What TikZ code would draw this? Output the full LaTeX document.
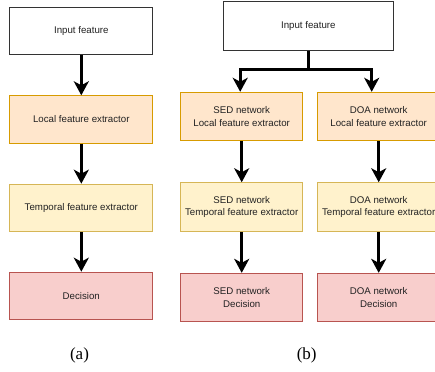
\documentclass[tikz,border=0pt]{standalone}
\usepackage{fontspec}
\setmainfont{Liberation Serif}
\newfontfamily\boxfont{Liberation Sans}
\usetikzlibrary{arrows.meta,calc}
\definecolor{orFill}{HTML}{FFE6CC}
\definecolor{orLine}{HTML}{D79B00}
\definecolor{yeFill}{HTML}{FFF2CC}
\definecolor{yeLine}{HTML}{D6B656}
\definecolor{reFill}{HTML}{F8CECC}
\definecolor{reLine}{HTML}{B85450}
\definecolor{txt}{HTML}{222222}
\tikzset{
  box/.style={rectangle, draw, line width=0.9pt, inner sep=0pt, align=center,
    font=\boxfont\fontsize{9.7}{12.3}\selectfont, text=txt},
  inbox/.style={box, draw=black!80, fill=white},
  locbox/.style={box, draw=orLine, fill=orFill},
  tmpbox/.style={box, draw=yeLine, fill=yeFill},
  decbox/.style={box, draw=reLine, fill=reFill},
  arr/.style={line width=3pt, -{Stealth[length=14pt, width=15pt, inset=4pt]}},
  caplabel/.style={font=\fontsize{17}{19}\selectfont}
}
\begin{document}
\begin{tikzpicture}[x=1pt,y=-1pt]
\useasboundingbox (0,0) rectangle (435,371);
% (a)
\node[inbox, minimum width=143pt, minimum height=47pt] (ia) at (81.3,30.7) {Input feature};
\node[locbox, minimum width=143pt, minimum height=47.5pt] (la) at (81.3,119.5) {Local feature extractor};
\node[tmpbox, minimum width=143pt, minimum height=47.7pt] (ta) at (81.3,208) {Temporal feature extractor};
\node[decbox, minimum width=143pt, minimum height=47.7pt] (da) at (81.3,296) {Decision};
\draw[arr] (ia.south) -- (la.north);
\draw[arr] (la.south) -- (ta.north);
\draw[arr] (ta.south) -- (da.north);
\node[caplabel] (capa) at (79.5,355) {(a)};
% (b)
\node[inbox, minimum width=170pt, minimum height=48.7pt] (ib) at (308.3,26.3) {Input feature};
\node[locbox, minimum width=122pt, minimum height=48.5pt] (sl) at (241.7,116.5) {SED network\\Local feature extractor};
\node[locbox, minimum width=122pt, minimum height=48.5pt] (dl) at (378.7,116.5) {DOA network\\Local feature extractor};
\node[tmpbox, minimum width=122pt, minimum height=49pt] (st) at (241.7,207.2) {SED network\\Temporal feature extractor};
\node[tmpbox, minimum width=122pt, minimum height=49pt] (dt) at (378.7,207.2) {DOA network\\Temporal feature extractor};
\node[decbox, minimum width=122pt, minimum height=48.4pt] (sd) at (241.7,297.5) {SED network\\Decision};
\node[decbox, minimum width=122pt, minimum height=48.4pt] (dd) at (378.7,297.5) {DOA network\\Decision};
\coordinate (j) at (ib.south |- 0,70);
\draw[arr] (ib.south) -- (j) -| ([xshift=-1.5pt]sl.north);
\draw[arr] (j) -| ([xshift=-7pt]dl.north);
\draw[arr] (sl.south) -- (st.north);
\draw[arr] (dl.south) -- (dt.north);
\draw[arr] (st.south) -- (sd.north);
\draw[arr] (dt.south) -- (dd.north);
\node[caplabel] (capb) at (306.7,355) {(b)};
\end{tikzpicture}
\end{document}
